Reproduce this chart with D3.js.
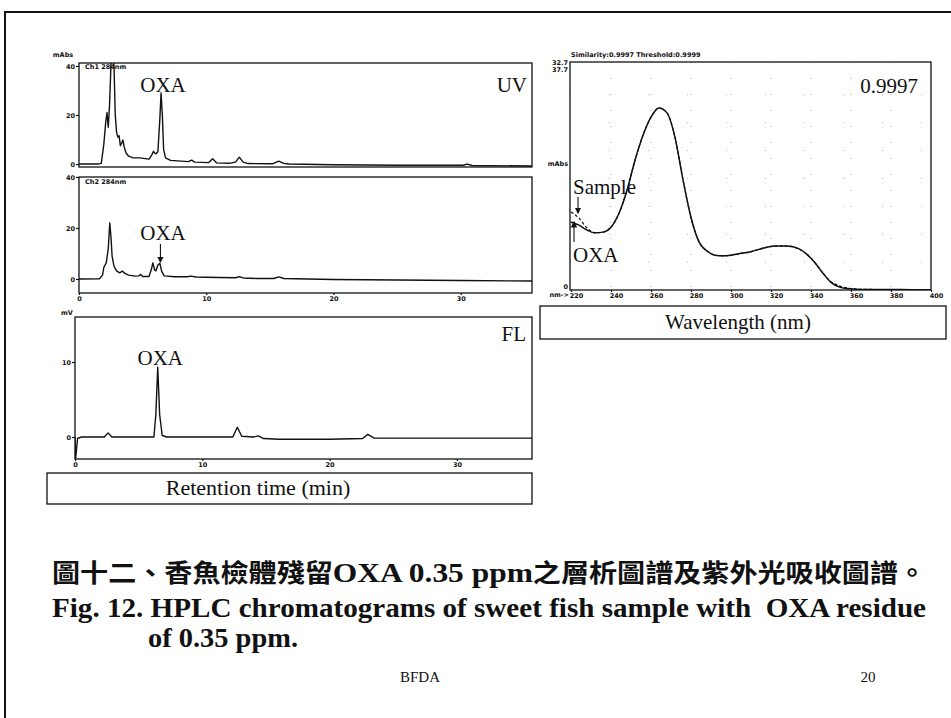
<!DOCTYPE html>
<html>
<head>
<meta charset="utf-8">
<script src="https://cdn.jsdelivr.net/npm/d3@7/dist/d3.min.js"></script>
<style>
  html, body { margin: 0; padding: 0; background: #fff; }
  svg { display: block; }
</style>
</head>
<body>
<svg id="fig" width="951" height="718"></svg>
<script>
// ---- Chromatogram data: retention time (min) and detector signal ----
// UV detector, channel 1 (mAbs)
const uv1Time = [0, 1.5, 1.75, 1.95, 2.1, 2.2, 2.3, 2.4, 2.55, 2.65, 2.75, 2.85, 2.95, 3.05, 3.15, 3.25, 3.35, 3.45, 3.55, 3.7, 3.9, 4.2, 4.8, 5.2, 5.5, 5.7, 5.85, 5.95, 6.05, 6.2, 6.35, 6.45, 6.55, 6.65, 6.8, 7.2, 8.0, 8.6, 8.85, 9.1, 10.2, 10.5, 10.8, 11.8, 12.3, 12.6, 12.9, 13.3, 15.2, 15.7, 16.1, 16.5, 20, 25, 30.2, 30.5, 30.9, 35.6];
const uv1Abs  = [0, 0, 0.3, 8, 17, 21, 15, 24, 46, 46, 40, 20, 13, 11, 11.5, 7.5, 8.5, 9.8, 7, 4.5, 3.2, 2.6, 2.5, 2.2, 2.0, 3.5, 5.2, 4.5, 4.2, 5, 18, 29, 20, 6, 2.5, 1.5, 1.2, 1.0, 1.6, 0.8, 0.6, 2.2, 0.5, 0.3, 0.8, 2.8, 0.8, 0.2, 0.1, 1.2, 0.3, 0.0, -0.3, -0.5, -0.5, 0.0, -0.6, -0.8];

// UV detector, channel 2 (mAbs)
const uv2Time = [0, 1.6, 1.85, 1.95, 2.05, 2.15, 2.3, 2.42, 2.52, 2.6, 2.75, 2.95, 3.2, 3.4, 3.6, 3.9, 4.4, 4.7, 4.85, 5.0, 5.5, 5.7, 5.8, 5.95, 6.05, 6.2, 6.35, 6.5, 6.7, 7.5, 8.5, 8.8, 9.2, 10, 11, 12.3, 12.6, 12.9, 14, 15.3, 15.7, 16.1, 18, 20, 25, 30, 35.6];
const uv2Abs  = [0, 0.1, 1.5, 4.5, 5.5, 6.5, 12, 22, 16, 9, 5, 3.2, 2.4, 3.1, 2.2, 1.5, 1.1, 1.2, 1.8, 1.0, 1.0, 4, 6.3, 3.5, 3.2, 5.5, 6.2, 3, 1.2, 0.9, 0.9, 1.1, 0.8, 0.7, 0.6, 0.5, 0.9, 0.4, 0.2, 0.2, 0.8, 0.2, 0, -0.2, -0.4, -0.6, -0.8];

// Fluorescence detector (mV)
const flTime = [0, 0.05, 0.2, 0.5, 2.3, 2.6, 2.9, 6.2, 6.35, 6.5, 6.65, 6.85, 7.2, 12.4, 12.75, 13.1, 14.0, 14.4, 14.8, 16, 20, 22.6, 23.0, 23.5, 25, 30, 35.9];
const flMv   = [0, -2.9, -0.2, 0, 0, 0.55, 0, 0, 3, 9.3, 3, 0.2, 0, 0, 1.3, 0.1, 0, 0.15, -0.2, -0.3, -0.3, -0.2, 0.35, -0.15, -0.15, -0.15, -0.15];

// ---- UV absorption spectra of the OXA peak (nm, mAbs) ----
const wavelengths    = [220, 224, 228, 232, 236, 240, 244, 248, 252, 256, 260, 264, 268, 272, 276, 280, 284, 288, 292, 296, 300, 304, 310, 316, 322, 328, 334, 338, 342, 346, 350, 354, 358, 362, 370, 380, 390, 400];
const oxaSpectrum    = [9.75, 9.3, 8.6, 8.2, 8.3, 9.0, 11.0, 14.3, 18.6, 22.2, 24.8, 26.1, 25.4, 21.9, 15.8, 10.4, 6.9, 5.6, 5.0, 4.9, 5.0, 5.2, 5.5, 6.0, 6.3, 6.3, 5.9, 5.1, 3.9, 2.4, 1.1, 0.45, 0.2, 0.12, 0.08, 0.06, 0.05, 0.04];
const sampleSpectrum = [11.2, 10.3, 8.9, 8.2, 8.3, 9.0, 11.0, 14.3, 18.6, 22.2, 24.8, 26.1, 25.4, 21.9, 15.8, 10.4, 6.9, 5.6, 5.0, 4.9, 5.0, 5.2, 5.5, 6.0, 6.3, 6.3, 5.9, 5.1, 3.9, 2.4, 1.2, 0.6, 0.3, 0.15, 0.08, 0.06, 0.05, 0.04];

// ---- Tick values ----
const timeTicks = [0, 10, 20, 30];
const uvTicks = [0, 20, 40];
const flTicks = [0, 10];
const waveTicks = [220, 240, 260, 280, 300, 320, 340, 360, 380, 400];
const waveGridY = [4, 8, 12, 16, 20, 24, 28];

// ---- Text ----
const titleZh = ["圖十二、香魚檢體殘留", "OXA 0.35 ppm", "之層析圖譜及紫外光吸收圖譜。"];
const titleEn1 = "Fig. 12. HPLC chromatograms of sweet fish sample with  OXA residue";
const titleEn2 = "of 0.35 ppm.";

const SERIF = '"Liberation Serif", "Times New Roman", serif';
const TINY = '"DejaVu Sans", sans-serif';

const svg = d3.select("#fig");
svg.append("rect").attr("width", 951).attr("height", 718).attr("fill", "#fff");

// page frame (top and left edges of the slide)
svg.append("path")
  .attr("d", "M5,718 L5,12 L951,12")
  .attr("fill", "none").attr("stroke", "#111").attr("stroke-width", 2);

const defs = svg.append("defs");
defs.append("marker").attr("id", "arrowHead")
  .attr("viewBox", "0 0 6 6").attr("refX", 5).attr("refY", 3)
  .attr("markerWidth", 6).attr("markerHeight", 6)
  .attr("orient", "auto-start-reverse")
  .append("path").attr("d", "M0,0 L6,3 L0,6 Z").attr("fill", "#111");

function styleTinyAxis(g) {
  g.select(".domain").remove();
  g.selectAll("line").attr("stroke", "#111").attr("stroke-width", 1.2);
  g.selectAll("text")
    .attr("font-family", TINY).attr("font-weight", "bold")
    .attr("font-size", 6.5).attr("fill", "#111");
}

// Draws one chromatogram panel: frame, axes and trace
function chromPanel(id, box, xDomain, yDomain, times, values, yTicks, showTimeLabels) {
  const x = d3.scaleLinear().domain(xDomain).range([box.x0, box.x1]);
  const y = d3.scaleLinear().domain(yDomain).range([box.y1, box.y0]);
  const g = svg.append("g");

  defs.append("clipPath").attr("id", id)
    .append("rect").attr("x", box.x0).attr("y", box.y0)
    .attr("width", box.x1 - box.x0).attr("height", box.y1 - box.y0);

  const line = d3.line()
    .x(i => x(times[i]))
    .y(i => y(values[i]));

  g.append("path")
    .attr("d", line(d3.range(times.length)))
    .attr("clip-path", `url(#${id})`)
    .attr("fill", "none").attr("stroke", "#111")
    .attr("stroke-width", 1.4).attr("stroke-linejoin", "round");

  g.append("rect")
    .attr("x", box.x0).attr("y", box.y0)
    .attr("width", box.x1 - box.x0).attr("height", box.y1 - box.y0)
    .attr("fill", "none").attr("stroke", "#111").attr("stroke-width", 1.3);

  g.append("g").attr("transform", `translate(${box.x0},0)`)
    .call(d3.axisLeft(y).tickValues(yTicks).tickSize(3).tickPadding(1).tickFormat(d3.format("d")))
    .call(styleTinyAxis);

  if (showTimeLabels) {
    g.append("g").attr("transform", `translate(0,${box.y1})`)
      .call(d3.axisBottom(x).tickValues(timeTicks).tickSize(2).tickPadding(1).tickFormat(d3.format("d")))
      .call(styleTinyAxis);
  }
  return { x, y, g };
}

function label(text, x, y, anchor, size) {
  return svg.append("text").attr("x", x).attr("y", y)
    .attr("text-anchor", anchor || "start")
    .attr("font-family", SERIF).attr("font-size", size || 21)
    .attr("fill", "#111").text(text);
}
function tiny(text, x, y, anchor) {
  return svg.append("text").attr("x", x).attr("y", y)
    .attr("text-anchor", anchor || "start")
    .attr("font-family", TINY).attr("font-weight", "bold")
    .attr("font-size", 6.5).attr("fill", "#111").text(text);
}
function arrow(x, y1, y2) {
  svg.append("line").attr("x1", x).attr("x2", x).attr("y1", y1).attr("y2", y2)
    .attr("stroke", "#111").attr("stroke-width", 1.1)
    .attr("marker-end", "url(#arrowHead)");
}

// ---- UV channel 1 ----
const p1 = chromPanel("clipUv1", { x0: 79, x1: 532, y0: 63, y1: 167 },
  [0, 35.6], [-1.2, 41.2], uv1Time, uv1Abs, uvTicks, false);
tiny("mAbs", 63, 57, "middle");
tiny("Ch1 284nm", 85, 69);
label("OXA", p1.x(6.6), 92, "middle");
label("UV", 527, 92, "end");

// ---- UV channel 2 ----
const p2 = chromPanel("clipUv2", { x0: 79, x1: 532, y0: 177, y1: 293 },
  [0, 35.6], [-5.5, 40], uv2Time, uv2Abs, uvTicks, true);
tiny("Ch2 284nm", 85, 184);
label("OXA", p2.x(6.6), 240, "middle");
arrow(p2.x(6.4), 244, 262);

// ---- Fluorescence ----
const p3 = chromPanel("clipFl", { x0: 75, x1: 532, y0: 317, y1: 459 },
  [0, 35.9], [-2.93, 16], flTime, flMv, flTicks, true);
tiny("mV", 67, 315, "middle");
label("OXA", p3.x(6.7), 365, "middle");
label("FL", 526, 341, "end");

// Retention time caption box
svg.append("rect").attr("x", 47).attr("y", 473).attr("width", 485).attr("height", 31)
  .attr("fill", "none").attr("stroke", "#111").attr("stroke-width", 1.3);
label("Retention time (min)", 258, 495, "middle", 22);

// ---- UV absorption spectrum ----
const sp = { x0: 570, x1: 931, y0: 62, y1: 290 };
const xs = d3.scaleLinear().domain([220, 400]).range([571, 931]);
const ys = d3.scaleLinear().domain([0, 32.7]).range([sp.y1, sp.y0]);

defs.append("clipPath").attr("id", "clipSpec")
  .append("rect").attr("x", sp.x0).attr("y", sp.y0)
  .attr("width", sp.x1 - sp.x0).attr("height", sp.y1 - sp.y0);

// faint dotted reference grid of the spectrum window
const grid = svg.append("g").attr("stroke", "#b5b5b5").attr("stroke-width", 1)
  .attr("stroke-dasharray", "1,15");
grid.selectAll(".vg").data(waveTicks.slice(1, -1)).join("line")
  .attr("x1", d => xs(d)).attr("x2", d => xs(d))
  .attr("y1", sp.y0).attr("y2", sp.y1);
grid.selectAll(".hg").data(waveGridY).join("line")
  .attr("x1", sp.x0).attr("x2", sp.x1)
  .attr("y1", d => ys(d)).attr("y2", d => ys(d))
  .attr("stroke-dasharray", "1,38");

const specLine = vals => d3.line()
  .x(i => xs(wavelengths[i]))
  .y(i => ys(vals[i]))
  .curve(d3.curveMonotoneX)(d3.range(wavelengths.length));

svg.append("path").attr("d", specLine(oxaSpectrum))
  .attr("clip-path", "url(#clipSpec)")
  .attr("fill", "none").attr("stroke", "#111").attr("stroke-width", 1.5);
svg.append("path").attr("d", specLine(sampleSpectrum))
  .attr("clip-path", "url(#clipSpec)")
  .attr("fill", "none").attr("stroke", "#111").attr("stroke-width", 1.2)
  .attr("stroke-dasharray", "3,2");

svg.append("rect")
  .attr("x", sp.x0).attr("y", sp.y0)
  .attr("width", sp.x1 - sp.x0).attr("height", sp.y1 - sp.y0)
  .attr("fill", "none").attr("stroke", "#111").attr("stroke-width", 1.3);

const wAxis = svg.append("g").attr("transform", `translate(0,${sp.y1})`)
  .call(d3.axisBottom(xs).tickValues(waveTicks).tickSize(2).tickPadding(1).tickFormat(d3.format("d")))
  .call(styleTinyAxis);
wAxis.selectAll("text").attr("dx", 5);
tiny("nm->", xs(220) - 2, 297, "end");

tiny("32.7", 568, 65, "end");
tiny("37.7", 568, 72, "end");
tiny("mAbs", 568, 166, "end");
tiny("0", 568, 289, "end");
tiny("Similarity:0.9997   Threshold:0.9999", 571, 57);

label("0.9997", 918, 93, "end");
label("Sample", 573, 194);
arrow(xs(223.5), 197, 213);
arrow(xs(221.5), 242, 222);
label("OXA", 573, 262);

// Wavelength caption box
svg.append("rect").attr("x", 540).attr("y", 306).attr("width", 406).attr("height", 33)
  .attr("fill", "none").attr("stroke", "#111").attr("stroke-width", 1.3);
label("Wavelength (nm)", 738, 329, "middle", 21);

// ---- Figure caption ----
const zh = svg.append("text").attr("x", 52).attr("y", 582)
  .attr("font-weight", "bold").attr("fill", "#111")
  .attr("textLength", 874).attr("lengthAdjust", "spacingAndGlyphs");
zh.append("tspan").attr("font-family", '"Noto Sans CJK TC", sans-serif').attr("font-size", 25).text(titleZh[0]);
zh.append("tspan").attr("font-family", SERIF).attr("font-size", 28).text(titleZh[1]);
zh.append("tspan").attr("font-family", '"Noto Sans CJK TC", sans-serif').attr("font-size", 25).text(titleZh[2]);

svg.append("text").attr("x", 52).attr("y", 617)
  .attr("font-family", SERIF).attr("font-weight", "bold").attr("font-size", 28)
  .attr("fill", "#111").style("white-space", "pre")
  .attr("textLength", 874).attr("lengthAdjust", "spacingAndGlyphs")
  .text(titleEn1);
svg.append("text").attr("x", 148).attr("y", 647)
  .attr("font-family", SERIF).attr("font-weight", "bold").attr("font-size", 28)
  .attr("fill", "#111").attr("textLength", 150).attr("lengthAdjust", "spacingAndGlyphs")
  .text(titleEn2);

label("BFDA", 420, 682, "middle", 15);
label("20", 868, 682, "middle", 15);
</script>
</body>
</html>
